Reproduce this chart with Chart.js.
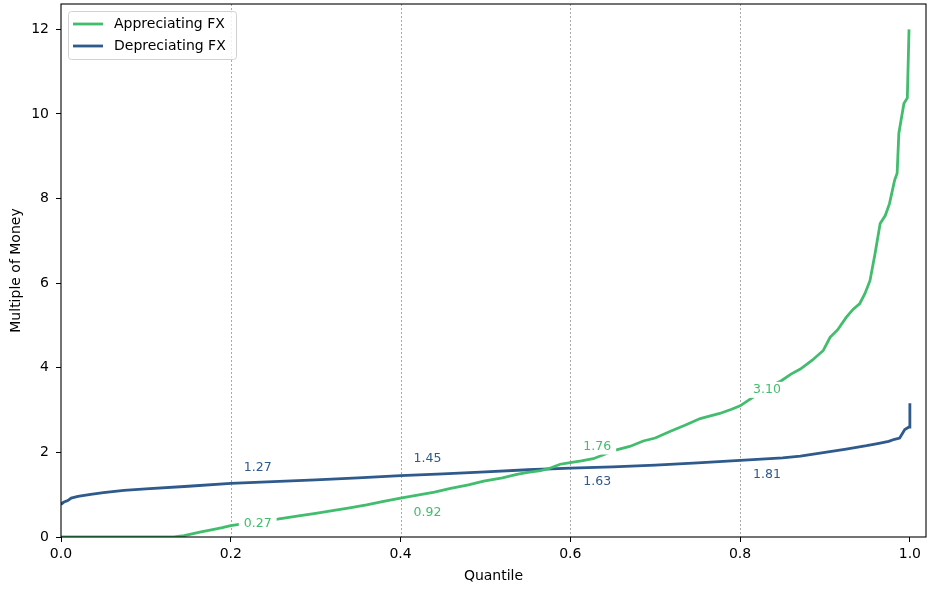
<!DOCTYPE html>
<html>
<head>
<meta charset="utf-8">
<script src="https://cdn.jsdelivr.net/npm/chart.js@4.4.0/dist/chart.umd.min.js"></script>
<style>
  html, body { margin: 0; padding: 0; background: #fff; }
  #wrap { width: 936px; height: 593px; position: relative; }
</style>
</head>
<body>
<div id="wrap"><canvas id="chart"></canvas></div>
<script>
// quantile curves
const greenQ = [0, 0.05, 0.10, 0.133, 0.145, 0.153, 0.165, 0.18, 0.19, 0.2,
  0.22, 0.24, 0.255, 0.28, 0.3, 0.318, 0.34, 0.36, 0.38, 0.4,
  0.42, 0.44, 0.459, 0.48, 0.498, 0.52, 0.537, 0.55, 0.565, 0.575,
  0.588, 0.6, 0.613, 0.627, 0.64, 0.651, 0.67, 0.686, 0.70, 0.718,
  0.735, 0.753, 0.776, 0.79, 0.8, 0.815, 0.83, 0.849, 0.86, 0.871,
  0.885, 0.898, 0.906, 0.915, 0.925, 0.933, 0.941, 0.947, 0.953, 0.959,
  0.965, 0.971, 0.976, 0.982, 0.985, 0.987, 0.99, 0.993, 0.997, 0.999];
const greenV = [0, 0, 0, 0, 0.03, 0.07, 0.12, 0.18, 0.22, 0.27,
  0.33, 0.38, 0.42, 0.5, 0.56, 0.62, 0.69, 0.76, 0.84, 0.92,
  0.99, 1.06, 1.15, 1.23, 1.32, 1.4, 1.48, 1.53, 1.57, 1.62,
  1.72, 1.76, 1.8, 1.85, 1.95, 2.04, 2.14, 2.27, 2.34, 2.5,
  2.64, 2.8, 2.92, 3.02, 3.1, 3.3, 3.5, 3.7, 3.85, 3.97,
  4.18, 4.41, 4.72, 4.9, 5.19, 5.38, 5.52, 5.75, 6.06, 6.7,
  7.41, 7.6, 7.88, 8.43, 8.6, 9.54, 9.9, 10.25, 10.38, 12.0];

const blueQ = [0, 0.003, 0.008, 0.012, 0.02, 0.035, 0.05, 0.074, 0.1, 0.15,
  0.2, 0.25, 0.3, 0.35, 0.4, 0.45, 0.5, 0.55, 0.6, 0.65,
  0.7, 0.75, 0.8, 0.85, 0.871, 0.9, 0.925, 0.949, 0.962, 0.975,
  0.982, 0.988, 0.994, 0.999, 1.0];
const blueV = [0.77, 0.82, 0.86, 0.92, 0.96, 1.01, 1.05, 1.1, 1.14, 1.2,
  1.27, 1.31, 1.35, 1.4, 1.45, 1.49, 1.54, 1.59, 1.63, 1.66,
  1.7, 1.75, 1.81, 1.87, 1.91, 2.0, 2.08, 2.16, 2.21, 2.26,
  2.31, 2.34, 2.54, 2.6, 3.16];

const seriesNames = ["Appreciating FX", "Depreciating FX"];
const markQ = [0.2, 0.4, 0.6, 0.8];
const greenLabels = ["0.27", "0.92", "1.76", "3.10"];
const blueLabels = ["1.27", "1.45", "1.63", "1.81"];
const xTicks = [0, 0.2, 0.4, 0.6, 0.8, 1.0];
const yTicks = [0, 2, 4, 6, 8, 10, 12];

const GREEN = "#41bd6d";
const BLUE = "#2e5a8c";
const FONT = "'DejaVu Sans', sans-serif";

function toPoints(qs, vs) {
    return qs.map((q, i) => ({ x: q, y: vs[i] }));
}

// frame + dotted vertical guides at the marked quantiles
const framePlugin = {
    id: "frame",
    beforeDatasetsDraw(chart) {
        const ctx = chart.ctx;
        const a = chart.chartArea;
        const xs = chart.scales.x;
        ctx.save();
        ctx.strokeStyle = "#a0a0a0";
        ctx.lineWidth = 0.9;
        ctx.setLineDash([2, 2]);
        markQ.forEach(q => {
            const px = Math.round(xs.getPixelForValue(q)) + 0.5;
            ctx.beginPath();
            ctx.moveTo(px, a.top);
            ctx.lineTo(px, a.bottom);
            ctx.stroke();
        });
        ctx.restore();
    },
    afterDraw(chart) {
        const ctx = chart.ctx;
        const a = chart.chartArea;
        ctx.save();
        ctx.strokeStyle = "#000";
        ctx.lineWidth = 1.1;
        ctx.strokeRect(a.left, a.top, a.right - a.left, a.bottom - a.top);
        ctx.restore();
    }
};

// value labels with white boxes (they hide the line under them)
const labelPlugin = {
    id: "valueLabels",
    afterDatasetsDraw(chart) {
        const ctx = chart.ctx;
        const xs = chart.scales.x, ys = chart.scales.y;
        const greenDy = [-2, 15, -16, -16];
        const blueDy = [-16, -17, 14, 14];
        ctx.save();
        ctx.font = "12.5px " + FONT;
        ctx.textBaseline = "middle";
        ctx.textAlign = "left";
        const put = (txt, q, dy, color) => {
            const px = xs.getPixelForValue(q) + 13;
            const py = ys.getPixelForValue(parseFloat(txt)) + dy;
            const w = ctx.measureText(txt).width;
            ctx.fillStyle = "#fff";
            ctx.fillRect(px - 5, py - 8, w + 10, 16);
            ctx.fillStyle = color;
            ctx.fillText(txt, px, py);
        };
        markQ.forEach((q, i) => {
            put(greenLabels[i], q, greenDy[i], GREEN);
            put(blueLabels[i], q, blueDy[i], BLUE);
        });
        ctx.restore();
    }
};

// matplotlib style legend box in the upper left
const legendPlugin = {
    id: "boxLegend",
    afterDraw(chart) {
        const ctx = chart.ctx;
        const colors = [GREEN, BLUE];
        ctx.save();
        ctx.fillStyle = "rgba(255,255,255,0.85)";
        ctx.strokeStyle = "#d0d0d0";
        ctx.lineWidth = 1;
        ctx.beginPath();
        ctx.roundRect(68.5, 11.5, 168, 48, 3);
        ctx.fill();
        ctx.stroke();
        ctx.font = "14px " + FONT;
        ctx.textBaseline = "middle";
        seriesNames.forEach((name, i) => {
            const y = 24 + i * 22;
            ctx.strokeStyle = colors[i];
            ctx.lineWidth = 2.8;
            ctx.beginPath();
            ctx.moveTo(73, y);
            ctx.lineTo(103, y);
            ctx.stroke();
            ctx.fillStyle = "#000";
            ctx.fillText(name, 114, y);
        });
        ctx.restore();
    }
};

new Chart(document.getElementById("chart"), {
    type: "line",
    data: {
        datasets: [{
            label: seriesNames[0],
            data: toPoints(greenQ, greenV),
            borderColor: GREEN,
            borderWidth: 2.8,
            pointRadius: 0,
            tension: 0
        }, {
            label: seriesNames[1],
            data: toPoints(blueQ, blueV),
            borderColor: BLUE,
            borderWidth: 2.8,
            pointRadius: 0,
            tension: 0
        }]
    },
    options: {
        responsive: true,
        maintainAspectRatio: false,
        animation: false,
        layout: { padding: { top: 4, right: 10, left: 0, bottom: 0 } },
        plugins: {
            legend: { display: false },
            tooltip: { enabled: false }
        },
        scales: {
            x: {
                type: "linear",
                min: 0,
                max: 1.019,
                afterBuildTicks: scale => { scale.ticks = xTicks.map(v => ({ value: v })); },
                afterFit: scale => { scale.height = 56; },
                grid: { drawOnChartArea: false, tickLength: 5, tickColor: "#000", tickWidth: 1 },
                border: { display: false },
                ticks: {
                    color: "#000",
                    padding: 4,
                    font: { family: FONT, size: 14 },
                    callback: v => v.toFixed(1)
                },
                title: {
                    display: true,
                    text: "Quantile",
                    color: "#000",
                    font: { family: FONT, size: 14 },
                    padding: { top: 0, bottom: 8 }
                }
            },
            y: {
                min: 0,
                max: 12.6,
                afterBuildTicks: scale => { scale.ticks = yTicks.map(v => ({ value: v })); },
                afterFit: scale => {
                    scale.width = 61;
                    scale.paddingTop = 0;
                    scale.paddingBottom = 0;
                },
                grid: { drawOnChartArea: false, tickLength: 5, tickColor: "#000", tickWidth: 1 },
                border: { display: false },
                ticks: {
                    color: "#000",
                    padding: 7,
                    font: { family: FONT, size: 14 },
                    callback: v => String(v)
                },
                title: {
                    display: true,
                    text: "Multiple of Money",
                    color: "#000",
                    font: { family: FONT, size: 14 },
                    padding: { top: 8, bottom: 0 }
                }
            }
        }
    },
    plugins: [framePlugin, labelPlugin, legendPlugin]
});
</script>
</body>
</html>
